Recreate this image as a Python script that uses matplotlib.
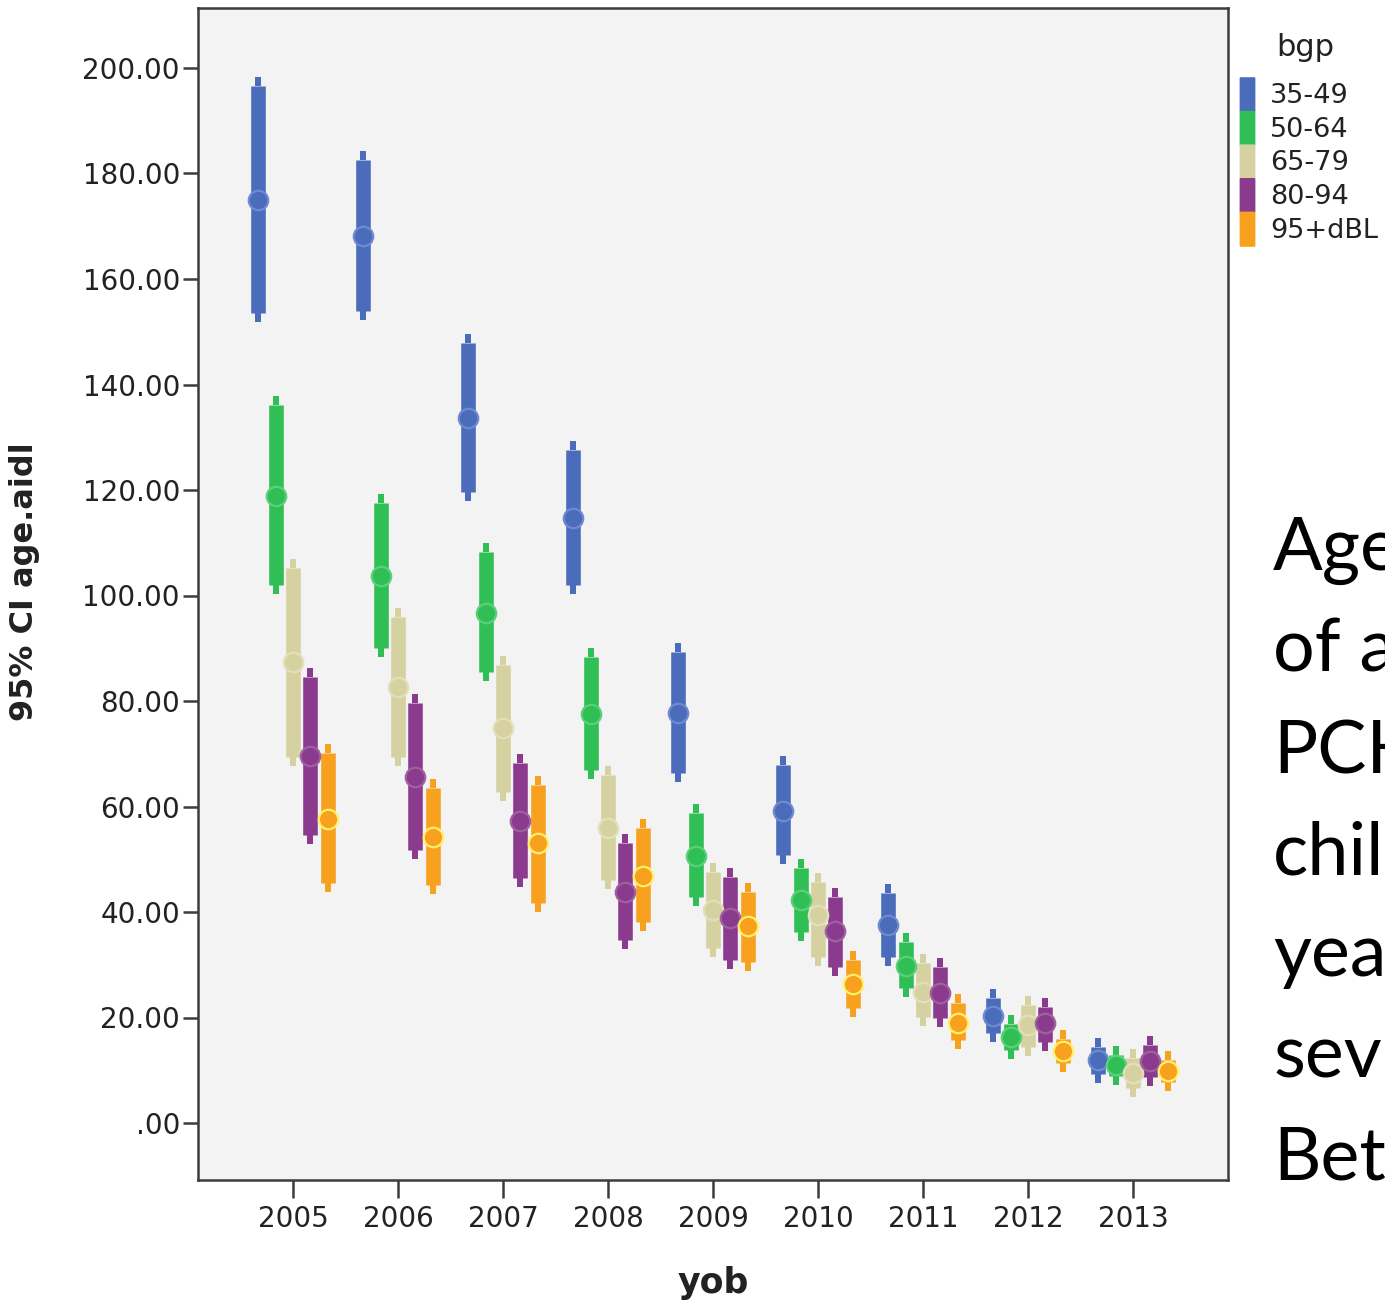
import matplotlib
matplotlib.use("Agg")
import matplotlib.pyplot as plt
import numpy as np
from matplotlib.path import Path
from matplotlib.markers import MarkerStyle
from matplotlib.patches import FancyBboxPatch

# ---- data: 95% CI of age.aidl by year of birth (yob) and bgp group ----
years = [2005, 2006, 2007, 2008, 2009, 2010, 2011, 2012, 2013]
groups = ["35-49", "50-64", "65-79", "80-94", "95+dBL"]

mean_35_49 = [175.0, 168.2, 133.6, 114.7, 77.7, 59.1, 37.5, 20.3, 11.9]
low_35_49 = [153.6, 153.9, 119.6, 102.0, 66.4, 50.8, 31.5, 17.1, 9.3]
high_35_49 = [196.6, 182.6, 147.9, 127.6, 89.3, 67.9, 43.6, 23.7, 14.4]

mean_50_64 = [118.9, 103.7, 96.7, 77.5, 50.6, 42.3, 29.8, 16.3, 11.0]
low_50_64 = [102.0, 90.0, 85.5, 66.9, 42.8, 36.2, 25.6, 13.8, 8.9]
high_50_64 = [136.1, 117.5, 108.2, 88.3, 58.8, 48.3, 34.3, 18.8, 12.9]

mean_65_79 = [87.4, 82.7, 74.9, 55.9, 40.4, 39.4, 24.8, 18.6, 9.5]
low_65_79 = [69.4, 69.4, 62.7, 46.1, 33.2, 31.5, 20.1, 14.4, 6.6]
high_65_79 = [105.2, 95.9, 86.8, 66.0, 47.6, 45.7, 30.3, 22.4, 12.3]

mean_80_94 = [69.6, 65.6, 57.3, 43.8, 38.9, 36.4, 24.6, 19.0, 11.8]
low_80_94 = [54.6, 51.8, 46.4, 34.7, 30.9, 29.6, 19.9, 15.4, 8.7]
high_80_94 = [84.5, 79.6, 68.2, 53.1, 46.6, 42.8, 29.6, 22.0, 14.8]

mean_95 = [57.6, 54.2, 53.1, 46.8, 37.3, 26.4, 19.0, 13.6, 9.9]
low_95 = [45.5, 45.1, 41.7, 38.1, 30.5, 21.8, 15.7, 11.4, 7.8]
high_95 = [70.1, 63.5, 64.1, 55.9, 43.8, 30.9, 22.7, 15.9, 11.9]

y_ticks = [0, 20, 40, 60, 80, 100, 120, 140, 160, 180, 200]
y_tick_labels = [".00", "20.00", "40.00", "60.00", "80.00", "100.00",
                 "120.00", "140.00", "160.00", "180.00", "200.00"]

side_text = ["Age", "of a", "PCH", "chil", "yea", "sev", "Bet"]

# ---- styling ----
colors = ["#4a6cbb", "#2fbf55", "#d6d1a0", "#8b3b8e", "#f8a11f"]
ring_colors = ["#6f8ace", "#5ccf7a", "#e3dfbb", "#a0609f", "#fff06a"]
means = [mean_35_49, mean_50_64, mean_65_79, mean_80_94, mean_95]
lows = [low_35_49, low_50_64, low_65_79, low_80_94, low_95]
highs = [high_35_49, high_50_64, high_65_79, high_80_94, high_95]

W, H = 1385, 1301
fig = plt.figure(figsize=(W / 100, H / 100), dpi=100)
fig.patch.set_facecolor("white")

ax_l, ax_r, ax_t, ax_b = 198, 1228, 8, 1180
ax = fig.add_axes([ax_l / W, 1 - ax_b / H, (ax_r - ax_l) / W, (ax_b - ax_t) / H])
ax.set_facecolor("#f3f3f3")

# small caps at the ends of each interval
cap_up = MarkerStyle(Path([(-0.35, 0), (0.35, 0), (0.35, 1), (-0.35, 1), (-0.35, 0)],
                          [Path.MOVETO, Path.LINETO, Path.LINETO, Path.LINETO, Path.CLOSEPOLY]))
cap_dn = MarkerStyle(Path([(-0.35, 0), (0.35, 0), (0.35, -1), (-0.35, -1), (-0.35, 0)],
                          [Path.MOVETO, Path.LINETO, Path.LINETO, Path.LINETO, Path.CLOSEPOLY]))

x = np.array(years, dtype=float)
step = 0.165
for i in range(len(groups)):
    xi = x + (i - 2) * step
    ax.vlines(xi, lows[i], highs[i], colors=colors[i], linewidth=10.5, capstyle="butt", zorder=3)
    ax.plot(xi, highs[i], linestyle="none", marker=cap_up, markersize=13,
            color=colors[i], markeredgewidth=0, zorder=3)
    ax.plot(xi, lows[i], linestyle="none", marker=cap_dn, markersize=13,
            color=colors[i], markeredgewidth=0, zorder=3)
    ax.plot(xi, means[i], linestyle="none", marker="o", markersize=14,
            markerfacecolor=colors[i], markeredgecolor=ring_colors[i],
            markeredgewidth=1.6, zorder=4)

ax.set_xlim(2004.095, 2013.905)
ax.set_ylim((1123 - 1180) / 5.275, (1123 - 8) / 5.275)
ax.set_xticks(years)
ax.set_xticklabels([str(y) for y in years])
ax.set_yticks(y_ticks)
ax.set_yticklabels(y_tick_labels)

for s in ax.spines.values():
    s.set_color("#3c3c3c")
    s.set_linewidth(1.8)
ax.tick_params(axis="both", colors="#3c3c3c", width=1.8, labelcolor="#222222",
               labelsize=20)
ax.tick_params(axis="y", length=11, pad=2)
ax.tick_params(axis="x", length=13, pad=5)

ax.set_xlabel("yob", fontsize=25, fontweight="bold", color="#222222", labelpad=24)
ax.set_ylabel("95% CI age.aidl", fontsize=23, fontweight="bold", color="#222222")
ax.yaxis.set_label_coords((40 - ax_l) / (ax_r - ax_l), (ax_b - 582) / (ax_b - ax_t))

# legend
fig.text(1276 / W, 1 - 47 / H, "bgp", fontsize=22, color="#222222", va="center", ha="left")
row_h = 33.6
top0 = 78
for i, g in enumerate(groups):
    y0 = top0 + i * row_h
    fig.patches.append(FancyBboxPatch((1241 / W, 1 - (y0 + row_h - 0.5) / H), 13 / W, (row_h - 1) / H,
                                      boxstyle="round,pad=0.001", transform=fig.transFigure,
                                      facecolor=colors[i], edgecolor="none"))
    fig.text(1270 / W, 1 - (y0 + row_h / 2 + 1.5) / H, g, fontsize=19.5, color="#222222",
             va="center", ha="left")

# side caption
base = 570
for k, line in enumerate(side_text):
    fig.text(1273 / W, 1 - (base + k * 101.5) / H, line, fontsize=53,
             family="Lato", color="black", va="baseline", ha="left")

fig.savefig("out.png", dpi=100)
